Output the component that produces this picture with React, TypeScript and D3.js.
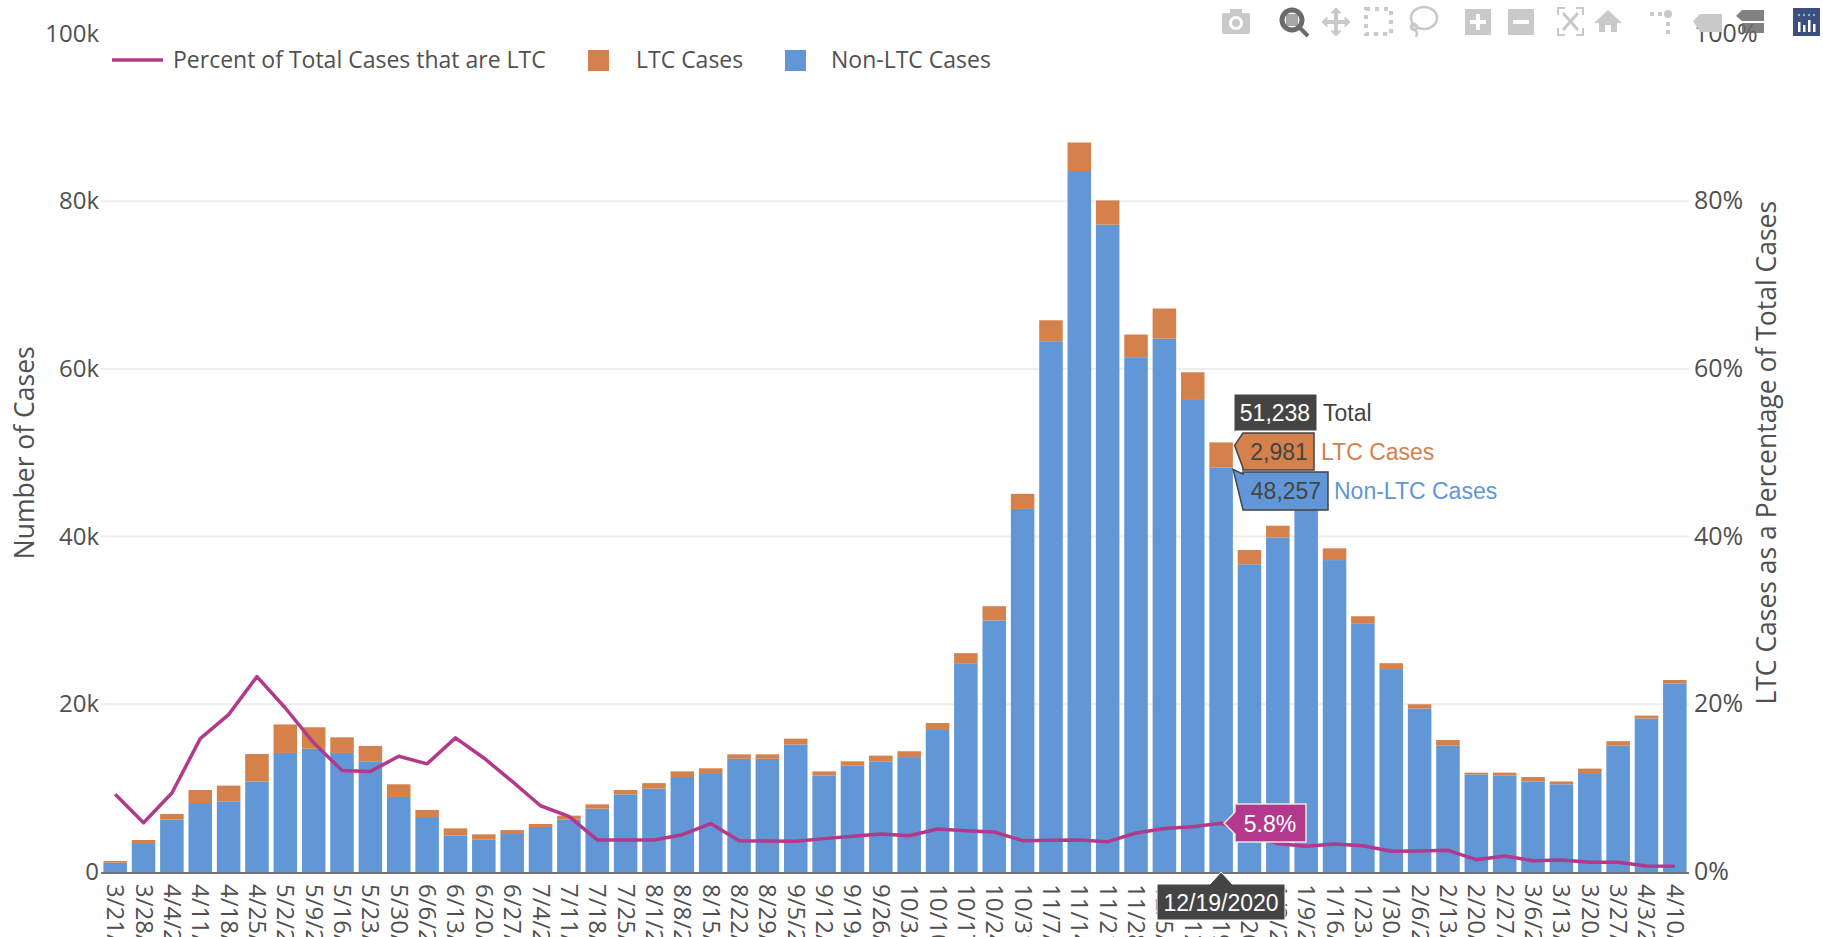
import React from "react";
import * as d3 from "d3";

// weekly values
const weeks = [
  "3/21/2020","3/28/2020","4/4/2020","4/11/2020","4/18/2020","4/25/2020","5/2/2020","5/9/2020",
  "5/16/2020","5/23/2020","5/30/2020","6/6/2020","6/13/2020","6/20/2020","6/27/2020","7/4/2020",
  "7/11/2020","7/18/2020","7/25/2020","8/1/2020","8/8/2020","8/15/2020","8/22/2020","8/29/2020",
  "9/5/2020","9/12/2020","9/19/2020","9/26/2020","10/3/2020","10/10/2020","10/17/2020","10/24/2020",
  "10/31/2020","11/7/2020","11/14/2020","11/21/2020","11/28/2020","12/5/2020","12/12/2020","12/19/2020",
  "12/26/2020","1/2/2021","1/9/2021","1/16/2021","1/23/2021","1/30/2021","2/6/2021","2/13/2021",
  "2/20/2021","2/27/2021","3/6/2021","3/13/2021","3/20/2021","3/27/2021","4/3/2021","4/10/2021",
];
const nonLtcCases = [
  1110,3340,6240,8230,8430,10800,14200,14700,14200,13200,8950,6560,4370,3860,4530,5370,
  6240,7550,9260,9940,11330,11690,13500,13500,15200,11500,12680,13200,13700,16940,24900,30000,
  43300,63300,83600,77200,61400,63600,56400,48257,36700,39900,44500,37200,29600,24200,19500,15070,
  11650,11500,10800,10460,11800,15070,18300,22500,
];
const ltcCases = [
  200,480,680,1550,1870,3270,3400,2560,1860,1830,1510,840,830,630,470,360,
  480,520,520,660,670,680,530,530,700,500,520,680,700,830,1200,1700,
  1800,2500,3400,2900,2700,3600,3200,2981,1700,1400,1500,1400,900,700,500,670,
  200,350,530,340,530,530,350,400,
];
const percentLtc = [
  9.26,5.88,9.42,15.9,18.77,23.3,19.56,15.4,12.1,12.0,13.8,12.9,16.0,13.6,10.8,7.9,
  6.64,3.82,3.82,3.82,4.45,5.77,3.74,3.7,3.66,3.98,4.25,4.53,4.33,5.13,4.93,4.77,
  3.74,3.78,3.82,3.62,4.65,5.2,5.4,5.82,4.4,3.4,3.06,3.34,3.14,2.47,2.5,2.58,
  1.47,1.9,1.35,1.43,1.15,1.15,0.72,0.68,
];
const leftTicks = [0, 20000, 40000, 60000, 80000, 100000];
const rightTicks = [0, 20, 40, 60, 80, 100];
const hoverWeek = "12/19/2020";

const W = 1823;
const H = 937;
const left = 101;
const right = 1689;
const top = 33.5;
const bottom = 872;
const font = "'Open Sans', sans-serif";
const blue = "#6197d7";
const orange = "#d4814c";
const pink = "#b2398b";
const tickColor = "#505050";

const x = d3.scaleBand<string>().domain(weeks).range([left, right]).paddingInner(0.17).paddingOuter(0.085);
const y = d3.scaleLinear().domain([0, 100000]).range([bottom, top]);
const yPct = d3.scaleLinear().domain([0, 100]).range([bottom, top]);

const rows = weeks.map((w, i) => ({ week: w, non: nonLtcCases[i], ltc: ltcCases[i] }));
const stacked = d3.stack<any>().keys(["non", "ltc"])(rows);
const stackColors = [blue, orange];

const pctLine = d3.line<number>()
  .x((_, i) => (x(weeks[i]) as number) + x.bandwidth() / 2)
  .y((d) => yPct(d));

const kFormat = (v: number) => (v === 0 ? "0" : `${v / 1000}k`);

function ModeBar() {
  const grey = "#c9c9c9";
  const dark = "#6b6b6b";
  return (
    <g>
      {/* camera */}
      <g transform="translate(1236,22)">
        <rect x={-14} y={-9} width={28} height={21} rx={2} fill={grey} />
        <rect x={-6} y={-13} width={12} height={6} fill={grey} />
        <circle cy={1} r={7} fill="#fff" />
        <circle cy={1} r={4} fill={grey} />
      </g>
      {/* zoom */}
      <g transform="translate(1292,20)">
        <circle r={10} fill="none" stroke={dark} strokeWidth={5} />
        <rect x={-6} y={-6} width={12} height={12} fill={dark} opacity={0.6} />
        <line x1={8} y1={8} x2={16} y2={16} stroke={dark} strokeWidth={4} />
      </g>
      {/* pan */}
      <g transform="translate(1336,22)" stroke={grey} strokeWidth={4} fill={grey}>
        <line x1={-12} x2={12} />
        <line y1={-12} y2={12} />
        <path d="M-14,0 L-9,-5 L-9,5 Z M14,0 L9,-5 L9,5 Z M0,-14 L-5,-9 L5,-9 Z M0,14 L-5,9 L5,9 Z" strokeWidth={1} />
      </g>
      {/* box select */}
      <rect x={1366} y={9} width={25} height={25} fill="none" stroke={grey} strokeWidth={4} strokeDasharray="4 5" />
      {/* lasso */}
      <g fill="none" stroke={grey} strokeWidth={2.5}>
        <ellipse cx={1424} cy={18} rx={13} ry={11} />
        <path d="M1411,25 C1411,30 1420,30 1416,37" />
        <circle cx={1414} cy={27} r={3} />
      </g>
      {/* zoom in, zoom out */}
      <rect x={1465} y={9} width={26} height={26} fill={grey} />
      <path d="M1478,14 V30 M1470,22 H1486" stroke="#fff" strokeWidth={4} />
      <rect x={1508} y={9} width={26} height={26} fill={grey} />
      <path d="M1513,22 H1529" stroke="#fff" strokeWidth={4} />
      {/* autoscale */}
      <g fill="none" stroke={grey} strokeWidth={2}>
        <path d="M1558,15 V8 H1565 M1576,8 H1583 V15 M1583,28 V35 H1576 M1565,35 H1558 V28" />
        <path d="M1563,13 L1578,30 M1578,13 L1563,30" strokeWidth={3} />
      </g>
      {/* home */}
      <path d="M1608,10 L1622,23 H1617 V32 H1611 V25 H1605 V32 H1599 V23 H1594 Z" fill={grey} />
      {/* spikes */}
      <g fill={grey}>
        <circle cx={1668} cy={14} r={4} />
        <rect x={1650} y={12} width={4} height={4} />
        <rect x={1658} y={12} width={4} height={4} />
        <rect x={1666} y={22} width={4} height={4} />
        <rect x={1666} y={30} width={4} height={4} />
      </g>
      {/* hover closest, hover compare */}
      <path d="M1693,21 L1700,14 H1722 V32 H1700 Z" fill={grey} />
      <path d="M1736,16 L1742,10 H1764 V21 H1742 Z" fill={dark} opacity={0.85} />
      <path d="M1742,23 H1764 V33 H1742 Z" fill={dark} opacity={0.85} />
      {/* logo */}
      <rect x={1793} y={8} width={27} height={28} fill="#3c4f7e" />
      <g fill="#fff">
        <rect x={1798} y={22} width={2.5} height={10} />
        <rect x={1803} y={25} width={2.5} height={7} />
        <rect x={1808} y={20} width={2.5} height={12} />
        <rect x={1813} y={24} width={2.5} height={8} />
      </g>
      <g fill="#6fc7c0">
        {[1799, 1804, 1809, 1814].map((cx) => (
          <circle key={cx} cx={cx} cy={15} r={1.2} />
        ))}
      </g>
    </g>
  );
}

function Legend() {
  const ts = { fontFamily: font, fontSize: 23, fill: tickColor };
  return (
    <g>
      <line x1={112} x2={163} y1={60} y2={60} stroke={pink} strokeWidth={3.5} />
      <text x={173} y={68} {...ts}>Percent of Total Cases that are LTC</text>
      <rect x={588} y={50} width={21} height={21} fill={orange} />
      <text x={636} y={68} {...ts}>LTC Cases</text>
      <rect x={785} y={50} width={21} height={21} fill={blue} />
      <text x={831} y={68} {...ts}>Non-LTC Cases</text>
    </g>
  );
}

function HoverLabels() {
  const i = weeks.indexOf(hoverWeek);
  const cx = (x(hoverWeek) as number) + x.bandwidth() / 2;
  const non = nonLtcCases[i];
  const ltc = ltcCases[i];
  const fmt = d3.format(",");
  const tipY = y(non + ltc);
  const nonY = y(non);
  const ts = { fontFamily: "'Liberation Sans', Arial, sans-serif", fontSize: 23 };
  return (
    <g>
      <path d={`M${cx + 3},${tipY - 6} L1234,431 L1234,394 H1317 V431 H1236 Z`} fill="#444" stroke="#fff" strokeWidth={1} />
      <text x={1275} y={421} textAnchor="middle" fill="#fff" {...ts}>{fmt(non + ltc)}</text>
      <text x={1323} y={421} fill="#444" {...ts}>Total</text>

      <path d={`M${cx + 13.5},${tipY + 3} L1243,433 H1314 V470 H1243 V468 Z`} fill={orange} stroke="#444" strokeWidth={1.5} />
      <text x={1279} y={460} textAnchor="middle" fill="#444" {...ts}>{fmt(ltc)}</text>
      <text x={1321} y={460} fill={orange} {...ts}>LTC Cases</text>

      <path d={`M${cx + 12},${nonY + 2} L1243,474 V472 H1328 V510 H1243 Z`} fill={blue} stroke="#444" strokeWidth={1.5} />
      <text x={1286} y={499} textAnchor="middle" fill="#444" {...ts}>{fmt(non)}</text>
      <text x={1334} y={499} fill={blue} {...ts}>Non-LTC Cases</text>

      <path d={`M${cx + 3},${yPct(percentLtc[i])} L1235,812 V804 H1306 V842 H1235 V834 Z`} fill={pink} stroke="#e8e8e8" strokeWidth={1.5} />
      <text x={1270} y={832} textAnchor="middle" fill="#fff" {...ts}>{`${percentLtc[i].toFixed(1)}%`}</text>

      <path d={`M${cx},${bottom} L${cx + 11},884 H1285 V920 H1157 V884 H${cx - 11} Z`} fill="#444" stroke="#fff" strokeWidth={1} />
      <text x={1221} y={911} textAnchor="middle" fill="#fff" {...ts}>{hoverWeek}</text>
    </g>
  );
}

export default function App() {
  return (
    <svg width={W} height={H} style={{ position: "absolute", left: 0, top: 0, background: "#fff" }}>
      {/* grid */}
      {leftTicks.slice(1, -1).map((t) => (
        <line key={t} x1={left} x2={right} y1={y(t)} y2={y(t)} stroke="#eeeeee" strokeWidth={2} />
      ))}
      <line x1={left} x2={right} y1={bottom + 1} y2={bottom + 1} stroke="#444" strokeWidth={1.5} />

      {/* stacked bars */}
      {stacked.map((layer, li) => (
        <g key={layer.key} fill={stackColors[li]}>
          {layer.map((d: any) => (
            <rect
              key={d.data.week}
              x={x(d.data.week)}
              width={x.bandwidth()}
              y={y(d[1])}
              height={y(d[0]) - y(d[1])}
            />
          ))}
        </g>
      ))}

      {/* percent line */}
      <path d={pctLine(percentLtc) as string} fill="none" stroke={pink} strokeWidth={3.5} strokeLinejoin="round" />

      {/* left axis */}
      {leftTicks.map((t) => (
        <text key={t} x={99} y={y(t) + 8} textAnchor="end" fontFamily={font} fontSize={24} fill={tickColor}>
          {kFormat(t)}
        </text>
      ))}
      <text
        transform={`translate(34,${(top + bottom) / 2}) rotate(-90)`}
        textAnchor="middle"
        fontFamily={font}
        fontSize={26.5}
        fill={tickColor}
      >
        Number of Cases
      </text>

      {/* right axis */}
      {rightTicks.map((t) => (
        <text key={t} x={1694} y={yPct(t) + 8} fontFamily={font} fontSize={25} fill={tickColor}>
          {`${t}%`}
        </text>
      ))}
      <text
        transform={`translate(1776,${(top + bottom) / 2}) rotate(-90)`}
        textAnchor="middle"
        fontFamily={font}
        fontSize={26.5}
        fill={tickColor}
      >
        LTC Cases as a Percentage of Total Cases
      </text>

      {/* week labels, they run off the bottom of the page */}
      {weeks.map((w) => (
        <text
          key={w}
          transform={`translate(${(x(w) as number) + x.bandwidth() / 2 - 8},884) rotate(90)`}
          fontFamily={font}
          fontSize={24}
          fill={tickColor}
        >
          {w}
        </text>
      ))}

      <Legend />
      <ModeBar />
      <HoverLabels />
    </svg>
  );
}
